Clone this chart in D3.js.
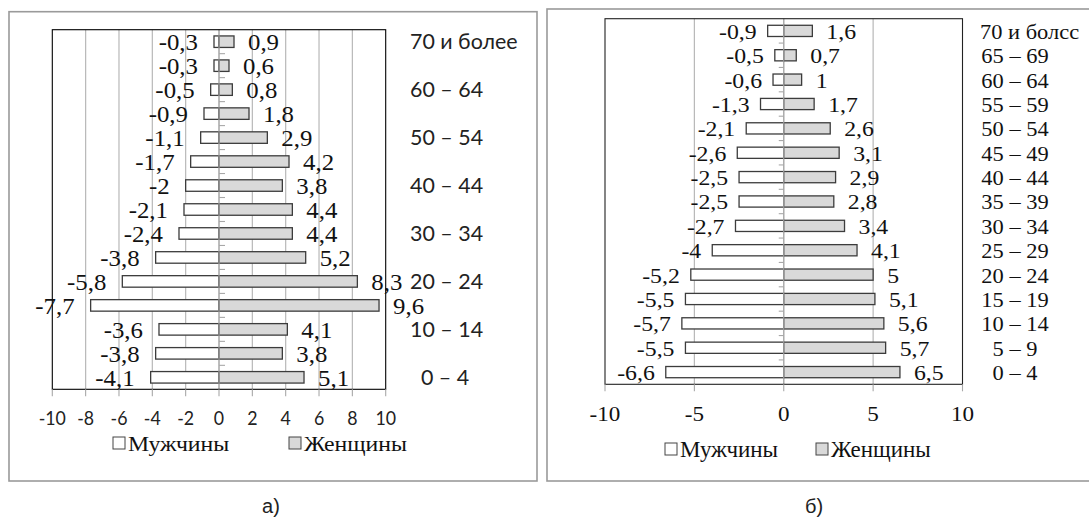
<!DOCTYPE html>
<html>
<head>
<meta charset="utf-8">
<script src="https://cdn.jsdelivr.net/npm/d3@7"></script>
<style>
  html, body { margin: 0; padding: 0; background: #fff; }
  svg { display: block; }
</style>
</head>
<body>
<svg id="chart" width="1089" height="521"></svg>
<script>
// ---------- DATA ----------
const agesA = ["70 и более","65 – 69","60 – 64","55 – 59","50 – 54","45 – 49","40 – 44","35 – 39","30 – 34","25 – 29","20 – 24","15 – 19","10 – 14","5 – 9","0 – 4"];
const menA   = [-0.3,-0.3,-0.5,-0.9,-1.1,-1.7,-2,-2.1,-2.4,-3.8,-5.8,-7.7,-3.6,-3.8,-4.1];
const womenA = [0.9,0.6,0.8,1.8,2.9,4.2,3.8,4.4,4.4,5.2,8.3,9.6,4.1,3.8,5.1];
const ticksA = [-10,-8,-6,-4,-2,0,2,4,6,8,10];

const agesB = ["70 и болсс","65 – 69","60 – 64","55 – 59","50 – 54","45 – 49","40 – 44","35 – 39","30 – 34","25 – 29","20 – 24","15 – 19","10 – 14","5 – 9","0 – 4"];
const menB   = [-0.9,-0.5,-0.6,-1.3,-2.1,-2.6,-2.5,-2.5,-2.7,-4,-5.2,-5.5,-5.7,-5.5,-6.6];
const womenB = [1.6,0.7,1,1.7,2.6,3.1,2.9,2.8,3.4,4.1,5,5.1,5.6,5.7,6.5];
const ticksB = [-10,-5,0,5,10];

const seriesNames = ["Мужчины","Женщины"];
const captions = ["а)","б)"];

// ---------- HELPERS ----------
const svg = d3.select("#chart");
const fmt = v => String(v).replace(".", ",");
const serif = "'Liberation Serif','Times New Roman',serif";
const sans  = "Lato,'Liberation Sans',Arial,sans-serif";

function txt(g, x, y, s, o) {
  const t = g.append("text")
    .attr("transform", `translate(${x},${y}) scale(${o.sx || 1},1)`)
    .attr("font-family", o.font)
    .attr("font-size", o.size)
    .attr("fill", o.fill || "#111")
    .attr("text-anchor", o.anchor || "start")
    .text(s);
  if (o.dy) t.attr("dy", o.dy);
  return t;
}

function panel(cfg) {
  const g = svg.append("g");
  // outer frame
  g.append("rect").attr("x", cfg.frame[0]).attr("y", cfg.frame[1])
    .attr("width", cfg.frame[2]-cfg.frame[0]).attr("height", cfg.frame[3]-cfg.frame[1])
    .attr("fill", "#fff").attr("stroke", "#9a9a9a").attr("stroke-width", 1.6);

  const x = d3.scaleLinear().domain([-10,10]).range([cfg.plot[0], cfg.plot[2]]);
  const y = d3.scaleBand().domain(cfg.ages).range([cfg.plot[1], cfg.plot[3]]).padding(0);
  const bh = y.bandwidth() * cfg.barRatio;
  const x0 = x(0);

  // gridlines
  g.selectAll(".grid").data(cfg.ticks.filter(t => t > -10 && t < 10)).join("line")
    .attr("x1", d => x(d)).attr("x2", d => x(d))
    .attr("y1", cfg.plot[1]).attr("y2", cfg.plot[3])
    .attr("stroke", "#b8b8b8").attr("stroke-width", 1.2);

  // bars
  const rows = cfg.ages.map((a,i) => ({a, m: cfg.men[i], w: cfg.women[i], i}));
  g.selectAll(".men").data(rows).join("rect")
    .attr("x", d => x(d.m)).attr("width", d => x0 - x(d.m))
    .attr("y", d => y(d.a) + y.bandwidth()/2 - bh/2).attr("height", bh)
    .attr("fill", "#ffffff").attr("stroke", "#3c3c3c").attr("stroke-width", 1.3);
  g.selectAll(".women").data(rows).join("rect")
    .attr("x", x0).attr("width", d => x(d.w) - x0)
    .attr("y", d => y(d.a) + y.bandwidth()/2 - bh/2).attr("height", bh)
    .attr("fill", "#d9d9d9").attr("stroke", "#3c3c3c").attr("stroke-width", 1.3);

  // zero (category) axis line and ticks
  g.append("line").attr("x1", x0).attr("x2", x0).attr("y1", cfg.plot[1]).attr("y2", cfg.plot[3])
    .attr("stroke", "#a8a8a8").attr("stroke-width", 1.1);
  g.selectAll(".ctick").data(cfg.ages.slice(1)).join("line")
    .attr("x1", x0).attr("x2", x0 + cfg.catTick)
    .attr("y1", d => y(d)).attr("y2", d => y(d))
    .attr("stroke", "#a8a8a8").attr("stroke-width", 1.1);

  // plot border
  g.append("rect").attr("x", cfg.plot[0]).attr("y", cfg.plot[1])
    .attr("width", cfg.plot[2]-cfg.plot[0]).attr("height", cfg.plot[3]-cfg.plot[1])
    .attr("fill", "none").attr("stroke", cfg.borderColor).attr("stroke-width", 1.1);

  // bottom axis ticks
  g.selectAll(".xtick").data(cfg.ticks).join("line")
    .attr("x1", d => x(d)).attr("x2", d => x(d))
    .attr("y1", cfg.plot[3]).attr("y2", cfg.plot[3] + 7)
    .attr("stroke", "#a8a8a8").attr("stroke-width", 1.1);
  cfg.ticks.forEach(t => txt(g, x(t), cfg.tickBase, fmt(t), cfg.tickFont).attr("text-anchor","middle"));

  // data labels
  rows.forEach(d => {
    const cy = y(d.a) + y.bandwidth()/2;
    txt(g, x(d.m) - cfg.gapM, cy, fmt(d.m), Object.assign({anchor:"end", dy:"0.36em"}, cfg.labFont));
    txt(g, x(d.w) + cfg.gapW, cy, fmt(d.w), Object.assign({anchor:"start", dy:"0.36em"}, cfg.labFont));
  });

  // category labels (right side)
  cfg.ages.forEach((a,i) => {
    if (i % cfg.catStep !== 0) return;
    const cy = y(a) + y.bandwidth()/2;
    const t = txt(g, 0, cy, a, Object.assign({dy:"0.36em"}, cfg.catFont));
    const w = t.node().getComputedTextLength() * (cfg.catFont.sx || 1);
    const lx = Math.max(cfg.catMin, cfg.catCenter - w/2);
    t.attr("transform", `translate(${lx},${cy}) scale(${cfg.catFont.sx || 1},1)`);
  });

  // legend
  cfg.legend.forEach((L, k) => {
    g.append("rect").attr("x", L[0]).attr("y", cfg.legY - 6).attr("width", 12).attr("height", 12)
      .attr("fill", k === 0 ? "#fff" : "#d9d9d9").attr("stroke", "#444").attr("stroke-width", 1);
    txt(g, L[0] + 15, cfg.legY + 8, seriesNames[k], {font: serif, size: cfg.legSize, sx: cfg.legSx || 1});
  });

  // caption
  txt(g, cfg.cap[0], cfg.cap[1], cfg.caption, {font: "'Liberation Sans',Arial,sans-serif", size: 20, anchor: "middle", fill:"#222"});
}

panel({
  ages: agesA, men: menA, women: womenA, ticks: ticksA,
  frame: [9, 11.7, 537, 481],
  plot: [52.3, 29.7, 385.7, 389.3],
  barRatio: 0.48, catTick: 6, borderColor: "#000",
  tickBase: 425, tickFont: {font: sans, size: 18.5, sx: 0.96, fill: "#222"},
  labFont: {font: serif, size: 23, sx: 1.08},
  gapM: 16, gapW: 14,
  catFont: {font: sans, size: 21, sx: 1.02, fill: "#222"},
  catStep: 2, catMin: 410, catCenter: 445,
  legend: [[113],[289]], legY: 443, legSize: 22, legSx: 1.08,
  caption: captions[0], cap: [271, 513]
});

panel({
  ages: agesB, men: menB, women: womenB, ticks: ticksB,
  frame: [547, 9, 1096, 481],
  plot: [605, 18.7, 962.5, 384.3],
  barRatio: 0.46, catTick: -5, borderColor: "#222",
  tickBase: 421, tickFont: {font: serif, size: 22, sx: 1.05},
  labFont: {font: serif, size: 22, sx: 1.08},
  gapM: 11, gapW: 14,
  catFont: {font: serif, size: 22, sx: 1.02},
  catStep: 1, catMin: 980, catCenter: 1015,
  legend: [[665],[816]], legY: 449, legSize: 23,
  caption: captions[1], cap: [814, 513]
});
</script>
</body>
</html>
